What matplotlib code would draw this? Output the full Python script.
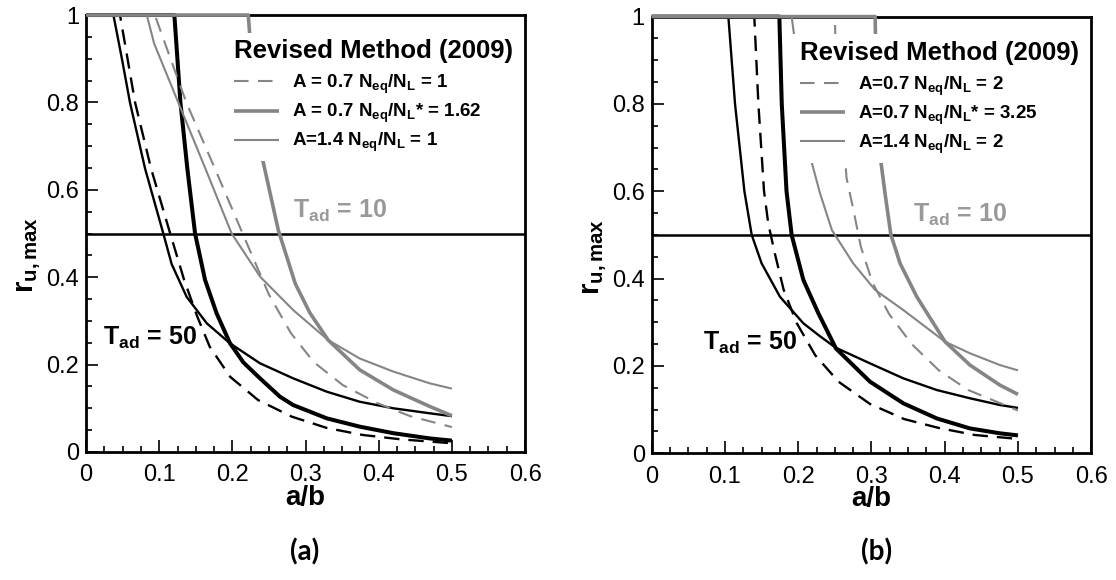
import matplotlib
matplotlib.use("Agg")
import matplotlib.pyplot as plt
from matplotlib.ticker import MultipleLocator, FuncFormatter

plt.rcParams.update({
    "font.family": ["Liberation Sans", "DejaVu Sans"],
    "mathtext.fontset": "custom",
    "mathtext.rm": "Liberation Sans",
    "mathtext.bf": "Liberation Sans:bold",
    "mathtext.it": "Liberation Sans:italic",
    "mathtext.default": "bf",
})

# ---------------- panel (a): Neq/NL = 1 ----------------
a_t50_a14_x = [0, 0.0374, 0.049, 0.060, 0.0806, 0.1056, 0.117, 0.1375, 0.165, 0.1967, 0.2377, 0.283, 0.329, 0.374, 0.42, 0.47, 0.5]
a_t50_a14_y = [1, 1, 0.9, 0.8, 0.649, 0.5, 0.43, 0.355, 0.2945, 0.2487, 0.203, 0.1686, 0.138, 0.115, 0.10, 0.0885, 0.082]
a_t50_a07_x = [0, 0.0464, 0.067, 0.0888, 0.115, 0.134, 0.152, 0.169, 0.197, 0.235, 0.281, 0.329, 0.378, 0.43, 0.5]
a_t50_a07_y = [1, 1, 0.8, 0.649, 0.5, 0.394, 0.31, 0.241, 0.172, 0.119, 0.081, 0.055, 0.039, 0.029, 0.02]
a_t50_star_x = [0, 0.1207, 0.129, 0.1384, 0.149, 0.1626, 0.1785, 0.1967, 0.215, 0.2377, 0.265, 0.283, 0.329, 0.374, 0.42, 0.47, 0.5]
a_t50_star_y = [1, 1, 0.8, 0.649, 0.5, 0.394, 0.317, 0.249, 0.205, 0.1686, 0.1266, 0.1075, 0.077, 0.058, 0.043, 0.031, 0.026]
a_t10_a14_x = [0, 0.083, 0.093, 0.126, 0.163, 0.199, 0.238, 0.283, 0.331, 0.374, 0.42, 0.47, 0.5]
a_t10_a14_y = [1, 1, 0.935, 0.8, 0.649, 0.5, 0.401, 0.325, 0.256, 0.214, 0.184, 0.157, 0.145]
a_t10_a07_x = [0, 0.094, 0.137, 0.176, 0.214, 0.25, 0.28, 0.311, 0.351, 0.398, 0.443, 0.5]
a_t10_a07_y = [1, 1, 0.8, 0.649, 0.5, 0.36, 0.272, 0.206, 0.153, 0.112, 0.082, 0.057]
a_t10_star_x = [0, 0.2217, 0.2235, 0.239, 0.2627, 0.286, 0.306, 0.331, 0.374, 0.42, 0.47, 0.5]
a_t10_star_y = [1, 1, 0.96, 0.687, 0.508, 0.385, 0.318, 0.256, 0.188, 0.142, 0.104, 0.083]
a_labels = ["A = 0.7 N$_{eq}$/N$_L$ = 1",
            "A = 0.7 N$_{eq}$/N$_L$* = 1.62",
            "A=1.4 N$_{eq}$/N$_L$ = 1"]

# ---------------- panel (b): Neq/NL = 2 ----------------
b_t50_a14_x = [0, 0.1046, 0.1137, 0.1265, 0.1365, 0.150, 0.175, 0.207, 0.2298, 0.251, 0.298, 0.3435, 0.389, 0.4345, 0.4755, 0.5]
b_t50_a14_y = [1, 1, 0.8, 0.6, 0.5, 0.435, 0.3586, 0.2977, 0.268, 0.242, 0.206, 0.1717, 0.145, 0.126, 0.1106, 0.104]
b_t50_a07_x = [0, 0.14, 0.1456, 0.1533, 0.159, 0.168, 0.18, 0.198, 0.223, 0.255, 0.298, 0.3445, 0.392, 0.441, 0.5]
b_t50_a07_y = [1, 1, 0.8, 0.6, 0.527, 0.458, 0.375, 0.298, 0.225, 0.164, 0.113, 0.0785, 0.058, 0.042, 0.033]
b_t50_star_x = [0, 0.1742, 0.1775, 0.184, 0.191, 0.207, 0.2275, 0.2515, 0.298, 0.3435, 0.389, 0.4345, 0.4755, 0.5]
b_t50_star_y = [1, 1, 0.8, 0.6, 0.5, 0.397, 0.3206, 0.24, 0.164, 0.1145, 0.080, 0.057, 0.0458, 0.041]
b_t10_a14_x = [0, 0.191, 0.195, 0.2, 0.206, 0.213, 0.2298, 0.246, 0.275, 0.305, 0.3435, 0.4004, 0.4345, 0.4755, 0.5]
b_t10_a14_y = [1, 1, 0.95, 0.87, 0.78, 0.70, 0.595, 0.511, 0.435, 0.374, 0.328, 0.2556, 0.229, 0.202, 0.19]
b_t10_a07_x = [0, 0.2502, 0.2505, 0.266, 0.275, 0.2855, 0.3014, 0.324, 0.355, 0.392, 0.432, 0.5]
b_t10_a07_y = [1, 1, 0.96, 0.63, 0.56, 0.473, 0.391, 0.319, 0.25, 0.19, 0.145, 0.098]
b_t10_star_x = [0, 0.305, 0.3055, 0.3117, 0.3185, 0.3265, 0.3318, 0.339, 0.3618, 0.4004, 0.4345, 0.4755, 0.5]
b_t10_star_y = [1, 1, 0.945, 0.683, 0.595, 0.5, 0.473, 0.435, 0.3586, 0.2556, 0.202, 0.156, 0.135]
b_labels = ["A=0.7 N$_{eq}$/N$_L$ = 2",
            "A=0.7 N$_{eq}$/N$_L$* = 3.25",
            "A=1.4 N$_{eq}$/N$_L$ = 2"]

x_ticks = [0, 0.1, 0.2, 0.3, 0.4, 0.5, 0.6]
y_ticks = [0, 0.2, 0.4, 0.6, 0.8, 1.0]
threshold = 0.5

GRAY = "#858585"
TXT_GRAY = "#999999"

fig = plt.figure(figsize=(11.16, 5.8), dpi=100)
ax_a = fig.add_axes([0.0771, 0.2207, 0.3934, 0.7534])
ax_b = fig.add_axes([0.5840, 0.2184, 0.3938, 0.7530])


def draw_panel(ax, black, gray, labels, t10_pos, t50_pos):
    (bx14, by14), (bx07, by07), (bxs, bys) = black
    (gx14, gy14), (gx07, gy07), (gxs, gys) = gray
    kw = dict(clip_on=False, zorder=3, solid_capstyle="butt")
    ax.plot(bx14, by14, color="black", lw=1.7, **kw)
    ax.plot(bx07, by07, color="black", lw=1.7, dashes=(6.5, 3.8), **kw)
    ax.plot(bxs, bys, color="black", lw=2.9, **kw)
    h14, = ax.plot(gx14, gy14, color=GRAY, lw=1.5, **kw)
    h07, = ax.plot(gx07, gy07, color=GRAY, lw=1.5, dashes=(7, 4.5), **kw)
    hs, = ax.plot(gxs, gys, color=GRAY, lw=2.6, **kw)
    ax.axhline(threshold, color="black", lw=1.8, zorder=2)

    ax.set_xlim(x_ticks[0], x_ticks[-1])
    ax.set_ylim(y_ticks[0], y_ticks[-1])
    ax.set_xticks(x_ticks)
    ax.set_yticks(y_ticks)
    ax.xaxis.set_minor_locator(MultipleLocator(0.025))
    ax.yaxis.set_minor_locator(MultipleLocator(0.05))
    fmt = FuncFormatter(lambda v, p: f"{v:g}")
    ax.xaxis.set_major_formatter(fmt)
    ax.yaxis.set_major_formatter(fmt)
    ax.tick_params(which="both", direction="in", top=False, right=False, width=1.2)
    ax.tick_params(which="major", length=8.5, labelsize=17)
    ax.tick_params(which="minor", length=4.5)
    ax.tick_params(axis="x", which="major", pad=9)
    ax.tick_params(axis="y", which="major", pad=5)
    for s in ax.spines.values():
        s.set_linewidth(2.0)

    ax.set_xlabel("a/b", fontsize=20, fontweight="bold", labelpad=-1)
    ax.set_ylabel("r$_{u,max}$", fontsize=21, fontweight="bold")
    ax.yaxis.set_label_coords(-0.097, 0.45)

    ax.text(t10_pos[0], t10_pos[1], "T$_{ad}$ = 10", color=TXT_GRAY,
            fontsize=18, fontweight="bold", va="baseline", ha="left", zorder=6)
    ax.text(t50_pos[0], t50_pos[1], "T$_{ad}$ = 50", color="black",
            fontsize=18, fontweight="bold", va="baseline", ha="left", zorder=6)

    leg = ax.legend([h07, hs, h14], labels, loc="upper left",
                    bbox_to_anchor=(0.322, 0.96), borderaxespad=0,
                    title="Revised Method (2009)",
                    prop={"size": 13.5, "weight": "bold"},
                    title_fontproperties={"size": 18.5, "weight": "bold"},
                    frameon=True, facecolor="white", edgecolor="none",
                    framealpha=1, fancybox=False, borderpad=0.35,
                    handlelength=2.4, handletextpad=0.7, labelspacing=0.32)
    leg._legend_box.align = "left"
    # a little more room between the title and the first entry
    leg._legend_box.sep = 7.0
    leg.set_zorder(5)


draw_panel(ax_a,
           [(a_t50_a14_x, a_t50_a14_y), (a_t50_a07_x, a_t50_a07_y), (a_t50_star_x, a_t50_star_y)],
           [(a_t10_a14_x, a_t10_a14_y), (a_t10_a07_x, a_t10_a07_y), (a_t10_star_x, a_t10_star_y)],
           a_labels, (0.283, 0.535), (0.0237, 0.245))
draw_panel(ax_b,
           [(b_t50_a14_x, b_t50_a14_y), (b_t50_a07_x, b_t50_a07_y), (b_t50_star_x, b_t50_star_y)],
           [(b_t10_a14_x, b_t10_a14_y), (b_t10_a07_x, b_t10_a07_y), (b_t10_star_x, b_t10_star_y)],
           b_labels, (0.357, 0.53), (0.0705, 0.237))

fig.text(305 / 1116, 1 - 552 / 580, "(a)", family=["Lato", "DejaVu Sans"],
         fontsize=20, fontweight="bold", ha="center", va="center")
fig.text(877 / 1116, 1 - 552 / 580, "(b)", family=["Lato", "DejaVu Sans"],
         fontsize=20, fontweight="bold", ha="center", va="center")

fig.savefig("out.png", dpi=100)
